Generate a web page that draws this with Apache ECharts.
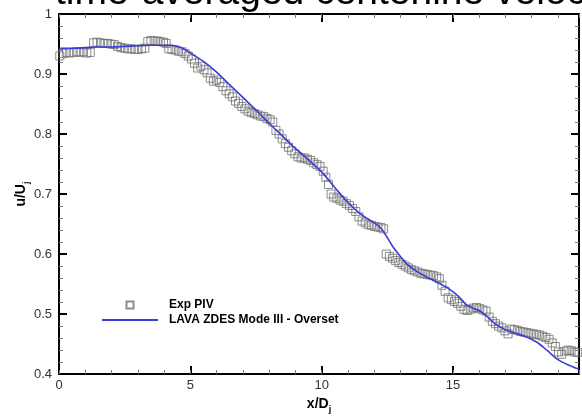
<!DOCTYPE html>
<html><head><meta charset="utf-8">
<script src="https://cdn.jsdelivr.net/npm/echarts@6/dist/echarts.min.js"></script>
<style>html,body{margin:0;padding:0;background:#fff}#c{width:582px;height:419px}</style>
</head><body><div id="c"></div>
<script>
var titleText = 'time-averaged centerline velocity';
var xTicks = [0, 5, 10, 15];
var yTicks = [0.4, 0.5, 0.6, 0.7, 0.8, 0.9, 1];
var expPIV = [
[0.03,0.930],[0.15,0.934],[0.28,0.936],[0.41,0.935],[0.54,0.936],[0.67,0.937],[0.80,0.936],[0.93,0.937],[1.06,0.935],[1.19,0.936],
[1.32,0.952],[1.45,0.953],[1.58,0.952],[1.71,0.951],[1.84,0.951],[1.97,0.950],[2.10,0.949],[2.23,0.946],
[2.36,0.944],[2.49,0.943],[2.62,0.942],[2.75,0.942],[2.88,0.941],[3.01,0.941],[3.14,0.942],[3.27,0.943],
[3.38,0.954],[3.50,0.956],[3.62,0.955],[3.74,0.955],[3.86,0.954],[3.98,0.953],[4.08,0.951],
[4.18,0.942],[4.30,0.941],[4.42,0.940],[4.55,0.938],[4.68,0.937],[4.80,0.934],[4.92,0.930],[5.04,0.925],
[5.16,0.918],[5.28,0.910],[5.40,0.913],[5.52,0.907],[5.64,0.902],[5.76,0.893],[5.88,0.888],[6.00,0.890],[6.12,0.886],[6.24,0.879],
[6.36,0.872],[6.48,0.867],[6.60,0.862],[6.72,0.855],[6.84,0.851],[6.96,0.846],[7.08,0.842],
[7.20,0.838],[7.32,0.836],[7.44,0.834],[7.56,0.832],[7.68,0.830],[7.80,0.829],[7.92,0.826],[8.04,0.824],[8.14,0.820],
[8.26,0.806],[8.38,0.800],[8.50,0.792],[8.62,0.784],[8.74,0.778],[8.86,0.772],[8.98,0.767],[9.10,0.762],
[9.22,0.760],[9.34,0.760],[9.46,0.758],[9.58,0.756],[9.70,0.752],[9.82,0.749],[9.94,0.746],
[10.06,0.738],[10.16,0.728],[10.26,0.716],[10.36,0.700],
[10.46,0.695],[10.58,0.693],[10.70,0.690],[10.82,0.688],[10.94,0.684],[11.06,0.681],[11.18,0.676],[11.30,0.671],[11.42,0.662],[11.54,0.655],[11.66,0.652],[11.78,0.649],[11.90,0.648],[12.02,0.646],[12.14,0.645],[12.26,0.644],[12.36,0.642],
[12.46,0.600],[12.58,0.596],[12.70,0.593],[12.82,0.589],[12.94,0.586],[13.06,0.583],[13.18,0.580],[13.30,0.577],[13.42,0.574],[13.54,0.572],[13.66,0.570],[13.78,0.568],[13.90,0.567],[14.02,0.566],[14.14,0.565],[14.26,0.564],[14.38,0.562],[14.48,0.559],
[14.58,0.548],[14.70,0.538],[14.82,0.527],[14.94,0.524],[15.06,0.521],[15.18,0.518],[15.30,0.513],[15.42,0.508],[15.54,0.506],[15.66,0.508],[15.78,0.510],[15.90,0.511],[16.02,0.509],[16.14,0.507],[16.26,0.505],
[16.38,0.495],[16.50,0.488],[16.62,0.484],[16.74,0.480],[16.86,0.477],[16.98,0.472],[17.10,0.467],
[17.22,0.475],[17.34,0.474],[17.46,0.473],[17.58,0.471],[17.70,0.470],[17.82,0.469],[17.94,0.468],[18.06,0.467],[18.18,0.466],[18.30,0.465],[18.42,0.463],[18.54,0.461],[18.66,0.458],[18.78,0.452],[18.90,0.446],
[19.02,0.437],[19.14,0.433],[19.26,0.438],[19.38,0.440],[19.50,0.439],[19.62,0.437],[19.74,0.436]
];
var lavaZDES = [
[0,0.943],[0.5,0.943],[1,0.944],[1.5,0.945],[2,0.945],[2.5,0.946],[3,0.947],[3.5,0.948],[4,0.948],[4.4,0.947],[4.7,0.943],[5,0.935],
[5.5,0.921],[6,0.903],[6.5,0.882],[7,0.861],[7.5,0.840],[8,0.818],[8.5,0.797],[9,0.776],[9.5,0.757],[10,0.737],[10.5,0.711],[11,0.686],
[11.5,0.666],[12,0.652],[12.3,0.641],[12.7,0.613],[13,0.596],[13.3,0.581],[13.7,0.569],[14,0.562],[14.4,0.553],[14.85,0.542],[15.2,0.530],
[15.5,0.516],[15.8,0.509],[16,0.506],[16.3,0.496],[16.6,0.484],[17,0.474],[17.4,0.468],[17.8,0.462],[18.2,0.453],[18.6,0.439],[19,0.424],
[19.4,0.415],[19.8,0.408]
];
var xMin = 0, xMax = 19.8, yMin = 0.4, yMax = 1;

var FONT = '"Liberation Sans", Arial, sans-serif';
var chart = echarts.init(document.getElementById('c'), null, {renderer: 'canvas'});

function xAx(pos, major, showLabel, showLine, showName) {
  return {
    type: 'value', position: pos, min: xMin, max: xMax, interval: major ? 5 : 1,
    gridIndex: 0,
    axisLine: {show: showLine, onZero: false, lineStyle: {color: '#000', width: 2}},
    axisTick: {show: true, inside: true, length: major ? 8 : 4, lineStyle: {color: major ? '#000' : '#777', width: major ? 2 : 1}},
    axisLabel: {show: showLabel, color: '#333', fontSize: 13, fontFamily: FONT, margin: 5,
      formatter: function (v) { return xTicks.indexOf(v) >= 0 ? String(v) : ''; }},
    splitLine: {show: false},
    name: showName ? '{b|x/D}{s|j}' : '',
    nameLocation: 'middle', nameGap: 9,
    nameTextStyle: {verticalAlign: 'top', rich: {
      b: {fontSize: 14, fontWeight: 'bold', fontFamily: FONT, color: '#000', lineHeight: 14, verticalAlign: 'top'},
      s: {fontSize: 9, fontWeight: 'bold', fontFamily: FONT, color: '#000', lineHeight: 9, padding: [8, 0, 0, 0], verticalAlign: 'top'}
    }}
  };
}
function yAx(pos, showLabel, showName) {
  return {
    type: 'value', position: pos, min: yMin, max: yMax, interval: 0.1,
    axisLine: {show: true, onZero: false, lineStyle: {color: '#000', width: 2}},
    axisTick: {show: true, inside: true, length: 8, lineStyle: {color: '#000', width: 2}},
    minorTick: {show: true, splitNumber: 5, length: 4, lineStyle: {color: '#777', width: 1}},
    axisLabel: {show: showLabel, color: '#333', fontSize: 13, fontFamily: FONT, margin: 7,
      formatter: function (v) { var r = Math.round(v * 10) / 10; return yTicks.indexOf(r) >= 0 ? String(r) : ''; }},
    splitLine: {show: false}, minorSplitLine: {show: false},
    name: showName ? '{b|u/U}{s|j}' : '',
    nameLocation: 'middle', nameGap: 31, nameMoveOverlap: false,
    nameTextStyle: {rich: {
      b: {fontSize: 14, fontWeight: 'bold', fontFamily: FONT, color: '#000', lineHeight: 14, verticalAlign: 'top'},
      s: {fontSize: 9, fontWeight: 'bold', fontFamily: FONT, color: '#000', lineHeight: 9, padding: [8, 0, 0, 0], verticalAlign: 'top'}
    }}
  };
}

var option = {
  backgroundColor: '#fff',
  animation: false,
  grid: {left: 59, right: 2, top: 14, bottom: 42, containLabel: false},
  graphic: [{
    type: 'text', x: 55, y: -7, silent: true,
    style: {text: titleText, font: '39px ' + FONT, fill: '#000', align: 'left', verticalAlign: 'middle'}
  }],
  legend: {
    orient: 'vertical', left: 96, top: 294, itemWidth: 56, itemHeight: 8, itemGap: 3,
    textStyle: {fontSize: 12, fontWeight: 'bold', fontFamily: FONT, color: '#000', padding: [0, 0, 0, 6]},
    data: [
      {name: 'Exp PIV', icon: 'path://M0,0M56,8M24.5,0.5L31.5,0.5L31.5,7.5L24.5,7.5Z'},
      {name: 'LAVA ZDES Mode III - Overset', itemStyle: {opacity: 0}}
    ]
  },
  xAxis: [
    xAx('bottom', true, true, true, true),
    xAx('bottom', false, false, false, false),
    xAx('top', true, false, true, false),
    xAx('top', false, false, false, false)
  ],
  yAxis: [
    yAx('left', true, true),
    yAx('right', false, false)
  ],
  series: [
    {
      name: 'Exp PIV', type: 'scatter', xAxisIndex: 0, yAxisIndex: 0,
      symbol: 'rect', symbolSize: 8,
      itemStyle: {color: 'rgba(0,0,0,0)', borderColor: '#6f6f6f', borderWidth: 1},
      data: expPIV, z: 3
    },
    {
      name: 'LAVA ZDES Mode III - Overset', type: 'line', xAxisIndex: 0, yAxisIndex: 0,
      symbol: 'none', smooth: 0.3,
      lineStyle: {color: '#3b3bd6', width: 1.6},
      itemStyle: {color: '#3b3bd6'},
      data: lavaZDES, z: 4
    }
  ]
};
chart.setOption(option);
</script></body></html>
